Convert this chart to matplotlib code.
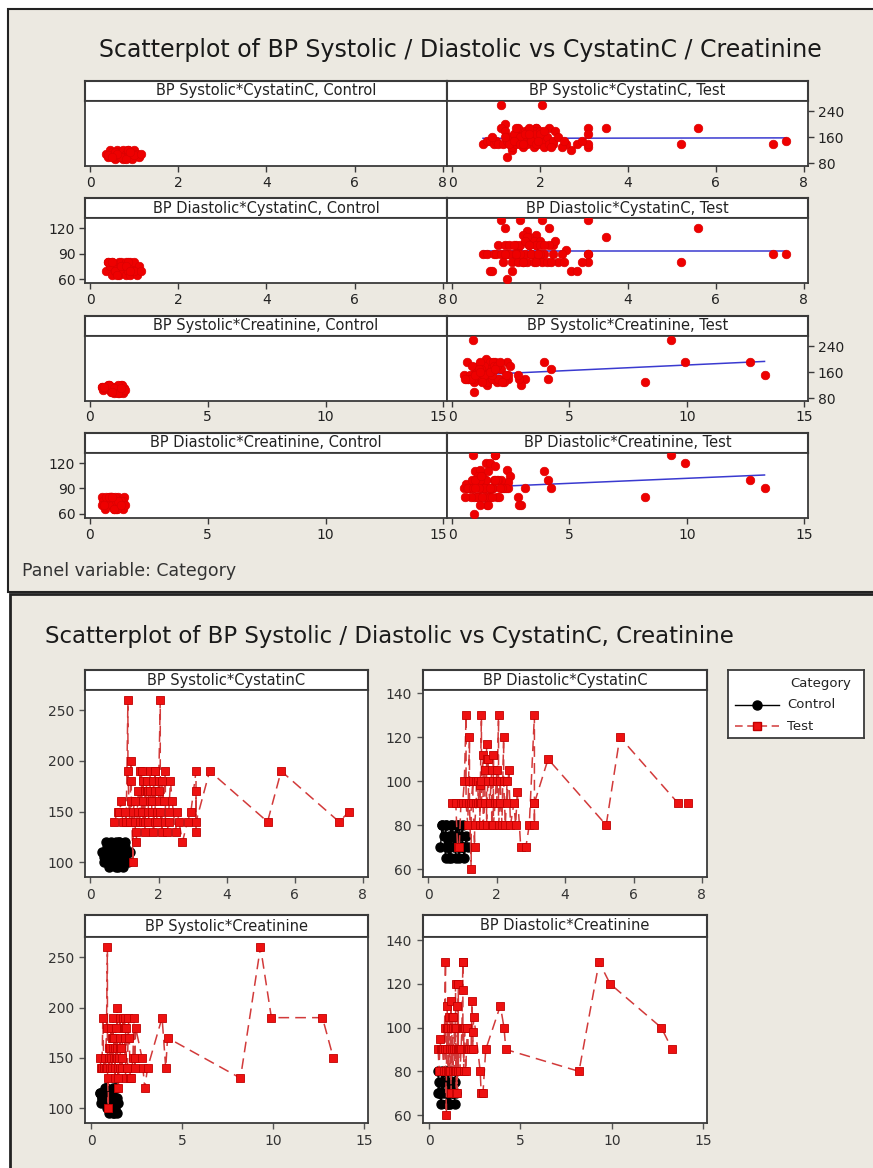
import numpy as np
import matplotlib
matplotlib.use('Agg')
from matplotlib import pyplot as plt
from matplotlib.patches import Rectangle
from matplotlib.transforms import ScaledTranslation

W, H = 873, 1168
BG = '#ECE9E1'
EDGE = '#3a3a3a'
FONT = 'DejaVu Sans'

# ---- data ----
control_cystatin = [0.35, 0.4, 0.45, 0.5, 0.5, 0.55, 0.6, 0.6, 0.65, 0.65,
                    0.7, 0.7, 0.75, 0.75, 0.8, 0.8, 0.85, 0.85, 0.9, 0.9,
                    0.95, 0.95, 1.0, 1.0, 1.05, 1.1, 0.4, 0.55, 0.7, 0.85,
                    1.0, 0.6, 0.8, 0.9, 0.5, 1.15]
control_creatinine = [0.6, 1.2, 0.8, 1.4, 0.5, 1.0, 0.7, 1.3, 0.9, 1.1,
                      0.55, 1.45, 0.75, 1.25, 0.65, 1.05, 0.95, 1.35, 0.85, 1.15,
                      0.6, 1.4, 0.7, 1.2, 1.0, 1.3, 0.9, 0.5, 1.1, 0.8,
                      1.5, 1.0, 1.2, 0.6, 0.95, 1.3]
control_systolic = [110, 100, 120, 105, 115, 95, 110, 120, 100, 115,
                    105, 110, 120, 95, 110, 100, 115, 120, 105, 100,
                    110, 95, 115, 120, 110, 100, 105, 115, 100, 120,
                    105, 110, 95, 115, 100, 110]
control_diastolic = [70, 80, 75, 65, 80, 70, 75, 70, 80, 65,
                     75, 80, 70, 75, 65, 80, 70, 75, 80, 65,
                     70, 75, 80, 70, 65, 75, 80, 70, 75, 80,
                     70, 65, 75, 70, 80, 70]

test_cystatin = [7.6, 7.3, 5.6, 5.2, 3.5, 2.05, 1.1, 3.1, 1.55, 3.1,
                 3.1, 2.3, 3.1, 1.9, 2.7, 2.85, 2.95, 1.35, 1.25, 1.2,
                 2.2, 1.7, 1.9, 2.35, 1.5, 1.75, 1.6, 1.85, 2.0, 2.6,
                 0.7, 0.8, 0.85, 0.95, 1.0, 1.05, 1.1, 1.15, 1.2, 1.25,
                 1.3, 1.35, 1.4, 1.45, 1.5, 1.5, 1.55, 1.6, 1.65, 1.7,
                 1.7, 1.75, 1.8, 1.85, 1.9, 1.95, 2.0, 2.05, 2.1, 2.15,
                 2.2, 2.3, 2.4, 2.5, 2.55, 1.3, 1.4, 1.55, 1.65, 1.8,
                 1.9, 2.0, 2.1, 1.2, 1.45, 1.75, 1.6, 2.25, 1.95, 0.9]
test_creatinine = [13.3, 2.4, 9.9, 1.6, 3.9, 9.3, 0.9, 1.85, 1.85, 8.2,
                   4.2, 4.1, 3.1, 12.7, 2.95, 2.85, 2.8, 1.5, 0.95, 1.45,
                   1.6, 1.85, 2.35, 2.45, 2.4, 1.0, 1.2, 1.1, 1.3, 0.6,
                   0.7, 0.5, 1.55, 1.5, 0.75, 1.05, 0.65, 1.15, 0.85, 1.25,
                   1.4, 0.95, 1.6, 1.3, 1.75, 1.1, 1.45, 1.9, 1.35, 1.55,
                   2.0, 1.2, 1.65, 1.5, 2.1, 1.7, 1.8, 1.4, 2.2, 1.6,
                   1.95, 2.3, 1.05, 2.15, 1.7, 0.7, 1.0, 0.9, 1.25, 1.35,
                   0.8, 1.15, 1.9, 1.6, 2.05, 1.85, 0.55, 1.3, 1.0, 1.2]
test_systolic = [150, 140, 190, 140, 190, 260, 260, 190, 180, 130,
                 170, 140, 140, 190, 120, 140, 150, 120, 100, 200,
                 190, 170, 190, 180, 150, 160, 170, 180, 160, 140,
                 140, 150, 150, 140, 150, 140, 190, 140, 180, 150,
                 160, 130, 170, 140, 190, 150, 160, 130, 180, 150,
                 140, 190, 160, 130, 170, 140, 180, 150, 130, 160,
                 140, 150, 160, 130, 150, 140, 150, 140, 170, 150,
                 140, 170, 180, 160, 190, 170, 140, 130, 150, 160]
test_diastolic = [90, 90, 120, 80, 110, 130, 130, 130, 130, 80,
                  90, 100, 90, 100, 70, 70, 80, 70, 60, 120,
                  120, 117, 112, 105, 98, 110, 112, 105, 105, 95,
                  90, 90, 70, 90, 90, 100, 90, 80, 100, 90,
                  100, 80, 90, 100, 90, 80, 100, 80, 90, 110,
                  80, 100, 90, 80, 100, 90, 100, 80, 90, 80,
                  100, 90, 80, 90, 80, 90, 100, 90, 105, 90,
                  80, 90, 100, 90, 90, 100, 80, 80, 90, 70]

# fitted lines for the Test panels (top chart)
fit_intercept = [157, 93, 148, 90]
fit_slope = [0.2, 0.0, 3.35, 1.19]

panels = [
    ('BP Systolic', 'CystatinC', control_cystatin, control_systolic,
     test_cystatin, test_systolic),
    ('BP Diastolic', 'CystatinC', control_cystatin, control_diastolic,
     test_cystatin, test_diastolic),
    ('BP Systolic', 'Creatinine', control_creatinine, control_systolic,
     test_creatinine, test_systolic),
    ('BP Diastolic', 'Creatinine', control_creatinine, control_diastolic,
     test_creatinine, test_diastolic),
]


def frac(x0, y0, x1, y1):
    return [x0 / W, 1 - y1 / H, (x1 - x0) / W, (y1 - y0) / H]


def style_spines(ax, lw=1.3):
    for sp in ax.spines.values():
        sp.set_color(EDGE)
        sp.set_linewidth(lw)


def strip(box, label, size):
    ax = fig.add_axes(frac(*box))
    ax.set_xticks([])
    ax.set_yticks([])
    style_spines(ax, 1.5)
    ax.text(0.5, 0.5, label, ha='center', va='center', family=FONT,
            fontsize=size, color='#222222', transform=ax.transAxes)
    return ax


def nudge(label, ha, dx_px):
    label.set_horizontalalignment(ha)
    label.set_transform(label.get_transform() +
                        ScaledTranslation(dx_px / 100, 0, fig.dpi_scale_trans))


fig = plt.figure(figsize=(W / 100, H / 100), dpi=100)
fig.patch.set_facecolor('white')
fig.add_artist(Rectangle((8 / W, 1 - 592 / H), 1, (592 - 9) / H,
                         transform=fig.transFigure, fc=BG, ec='#222222',
                         lw=1.5, zorder=-2))
fig.add_artist(Rectangle((10 / W, -0.01), 1, (1168 - 594) / H + 0.01,
                         transform=fig.transFigure, fc=BG, ec='#222222',
                         lw=2, zorder=-1))

# ================= top chart (panel variable: Category) =================
fig.text(460 / W, 1 - 50 / H,
         'Scatterplot of BP Systolic / Diastolic vs CystatinC / Creatinine',
         ha='center', va='center', family=FONT, fontsize=17, color='#1a1a1a')

cols = [(85, 447, 'Control'), (447, 808, 'Test')]
for r, (yname, xname, cx, cy, tx, ty) in enumerate(panels):
    top = 81 + 117.3 * r
    systolic = yname == 'BP Systolic'
    cystatin = xname == 'CystatinC'
    for c, (x0, x1, group) in enumerate(cols):
        strip((x0, top, x1, top + 20), f'{yname}*{xname}, {group}', 10.5)
        ax = fig.add_axes(frac(x0, top + 20, x1, top + 85))
        style_spines(ax)
        xs, ys = (cx, cy) if group == 'Control' else (tx, ty)
        ax.scatter(xs, ys, s=38, color='#ee0000', edgecolors='#dd0000',
                   linewidths=0.5, zorder=3)
        if group == 'Test':
            xmin, xmax = min(xs), max(xs)
            ax.plot([xmin, xmax],
                    [fit_intercept[r] + fit_slope[r] * xmin,
                     fit_intercept[r] + fit_slope[r] * xmax],
                    color='#3a3ad0', lw=1.1, zorder=2)
        if cystatin:
            ax.set_xlim(-0.12, 8.1)
            ax.set_xticks([0, 2, 4, 6, 8])
        else:
            ax.set_xlim(-0.21, 15.15)
            ax.set_xticks([0, 5, 10, 15])
        if systolic:
            ax.set_ylim(72, 272)
            if c == 1:
                ax.yaxis.tick_right()
                ax.set_yticks([80, 160, 240])
            else:
                ax.set_yticks([])
        else:
            ax.set_ylim(55, 132)
            if c == 0:
                ax.set_yticks([60, 90, 120])
            else:
                ax.set_yticks([])
        ax.tick_params(direction='out', length=4, width=1, color=EDGE,
                       labelsize=10, labelcolor='#222222', pad=3)
        for lab in ax.get_xticklabels() + ax.get_yticklabels():
            lab.set_family(FONT)
        ticks = ax.xaxis.get_major_ticks()
        if c == 0:
            nudge(ticks[-1].label1, 'right', 4)
        else:
            nudge(ticks[0].label1, 'left', -4)

fig.text(22 / W, 1 - 571 / H, 'Panel variable: Category', ha='left',
         va='center', family=FONT, fontsize=12.5, color='#333333')

# ================= bottom chart (overlaid groups) =================
fig.text(45 / W, 1 - 636 / H,
         'Scatterplot of BP Systolic / Diastolic vs CystatinC, Creatinine',
         ha='left', va='center', family=FONT, fontsize=16.5, color='#1a1a1a')

boxes = [(85, 670, 368, 877), (423, 670, 707, 877),
         (85, 915, 368, 1123), (423, 915, 707, 1123)]
for k, (yname, xname, cx, cy, tx, ty) in enumerate(panels):
    x0, s0, x1, b = boxes[k]
    strip_h = 20 if s0 < 900 else 22
    strip((x0, s0, x1, s0 + strip_h), f'{yname}*{xname}', 10.5)
    ax = fig.add_axes(frac(x0, s0 + strip_h, x1, b))
    style_spines(ax)

    oc = np.argsort(cx, kind='stable')
    ax.plot(np.array(cx)[oc], np.array(cy)[oc], color='black', lw=1,
            marker='o', ms=6.5, mfc='black', mec='black', zorder=3)
    ot = np.argsort(tx, kind='stable')
    ax.plot(np.array(tx)[ot], np.array(ty)[ot], color='#d23a3a', lw=1.1,
            ls=(0, (7, 4)), marker='s', ms=5.5, mfc='#ee1111', mec='#c00000',
            mew=0.6, zorder=4)

    if xname == 'CystatinC':
        ax.set_xlim(-0.16, 8.15)
        ax.set_xticks([0, 2, 4, 6, 8])
    else:
        ax.set_xlim(-0.33, 15.2)
        ax.set_xticks([0, 5, 10, 15])
    if yname == 'BP Systolic':
        ax.set_ylim(85.5, 270)
        ax.set_yticks([100, 150, 200, 250])
    else:
        ax.set_ylim(56.4, 141.4)
        ax.set_yticks([60, 80, 100, 120, 140])
    ax.tick_params(direction='out', length=4, width=1, color='#555555',
                   labelsize=10, labelcolor='#333333', pad=4)
    for lab in ax.get_xticklabels() + ax.get_yticklabels():
        lab.set_family(FONT)

# legend box
lg = fig.add_axes(frac(728, 670, 864, 738))
lg.set_xlim(728, 864)
lg.set_ylim(738, 670)
lg.set_xticks([])
lg.set_yticks([])
style_spines(lg, 1.3)
lg.text(851, 684, 'Category', ha='right', va='center', family=FONT,
        fontsize=9.5, color='#222222')
lg.plot([735, 757, 779], [705, 705, 705], color='black', lw=1, marker='o',
        ms=6.5, markevery=[1], mfc='black', mec='black')
lg.plot([735, 757, 779], [726, 726, 726], color='#d23a3a', lw=1.1,
        ls=(0, (5, 3)), marker='s', ms=5.5, markevery=[1], mfc='#ee1111',
        mec='#c00000')
lg.text(787, 705, 'Control', ha='left', va='center', family=FONT,
        fontsize=9.5, color='#222222')
lg.text(787, 726, 'Test', ha='left', va='center', family=FONT,
        fontsize=9.5, color='#222222')

fig.savefig('out.png', dpi=100, facecolor=fig.get_facecolor())
